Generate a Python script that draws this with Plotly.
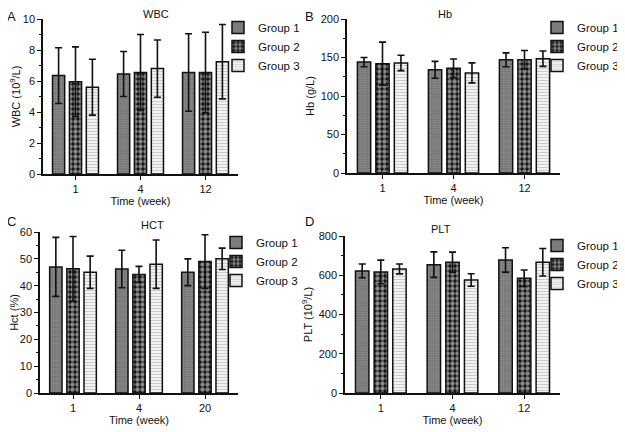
import plotly.graph_objects as go
from plotly.subplots import make_subplots

groups = ["Group 1", "Group 2", "Group 3"]

wbc_weeks = ["1", "4", "12"]
wbc_mean = [[6.35, 6.45, 6.55], [5.95, 6.55, 6.55], [5.6, 6.8, 7.25]]
wbc_err = [[1.8, 1.45, 2.5], [2.25, 2.45, 2.6], [1.8, 1.85, 2.4]]

hb_weeks = ["1", "4", "12"]
hb_mean = [[144, 134, 147], [142, 136, 147], [143, 130, 148.5]]
hb_err = [[6, 11, 9], [28, 12, 12], [10, 13, 10]]

hct_weeks = ["1", "4", "20"]
hct_mean = [[47, 46.2, 45], [46.3, 44.2, 49], [45, 48, 50]]
hct_err = [[11, 7, 5], [12, 3, 10], [6, 9, 4]]

plt_weeks = ["1", "4", "12"]
plt_mean = [[622, 654, 678], [617, 666, 585], [632, 576, 666]]
plt_err = [[35, 65, 62], [60, 52, 42], [25, 32, 70]]

patterns = [
    dict(shape=".", bgcolor="#6c6c6c", fgcolor="#b4b4b4", size=2.5, solidity=0.5),
    dict(shape=".", bgcolor="#111111", fgcolor="#ffffff", size=5, solidity=0.6),
    dict(shape="-", bgcolor="#ffffff", fgcolor="#9a9a9a", size=3, solidity=0.5),
]

panels = [
    (wbc_weeks, wbc_mean, wbc_err, "WBC (10<sup>9</sup>/L)", [0, 10], 2, "WBC", "A"),
    (hb_weeks, hb_mean, hb_err, "Hb (g/L)", [0, 200], 50, "Hb", "B"),
    (hct_weeks, hct_mean, hct_err, "Hct (%)", [0, 60], 10, "HCT", "C"),
    (plt_weeks, plt_mean, plt_err, "PLT (10<sup>9</sup>/L)", [0, 800], 200, "PLT", "D"),
]

# the page body has an 8px margin, so the figure starts at (8, 8) on the page;
# the figure is a bit wider than what is left so the right legends are not clipped
OFF = 8
W, H = 625, 432 - OFF


def px(xp):
    return (xp - OFF) / W


def py(yp):
    return 1 - (yp - OFF) / H


# plot-area boxes in page pixels (left, right, top, bottom)
boxes = [(43, 238, 19, 174), (347, 560, 19, 173), (40, 238, 232, 393), (345, 560, 236, 393)]
legend_pos = [(218, 13), (537, 13), (216, 228), (537, 231)]
letter_pos = [(5, 7), (303, 7), (5, 212), (303, 212)]
title_y = [14, 14, 225, 229]

fig = make_subplots(rows=2, cols=2)
font = dict(family="Liberation Sans, Arial", size=11, color="#111111")

annotations = []
for k, (weeks, means, errs, ytitle, yr, dt, title, letter) in enumerate(panels):
    row, col = k // 2 + 1, k % 2 + 1
    lg = "legend" if k == 0 else f"legend{k + 1}"
    for g in range(3):
        fig.add_trace(go.Bar(
            x=weeks, y=means[g], name=groups[g], legend=lg,
            marker=dict(color=patterns[g]["bgcolor"], pattern=patterns[g],
                        line=dict(color="#111111", width=1.5)),
            error_y=dict(type="data", array=errs[g], color="#111111", thickness=1.6, width=3.5),
        ), row=row, col=col)
    l, r, t, b = boxes[k]
    suffix = "" if k == 0 else str(k + 1)
    fig.layout["xaxis" + suffix].update(
        domain=[px(l), px(r)], range=[-0.5, 2.5], showline=True, linecolor="#111111",
        linewidth=1.5, ticks="outside", ticklen=4, tickwidth=1.2, tickcolor="#111111",
        title=dict(text="Time (week)", font=font, standoff=2), tickfont=font, showgrid=False)
    fig.layout["yaxis" + suffix].update(
        domain=[py(b), py(t)], range=yr, dtick=dt, showline=True, linecolor="#111111",
        linewidth=1.5, ticks="outside", ticklen=4, tickwidth=1.2, tickcolor="#111111",
        minor=dict(ticks="outside", ticklen=2, dtick=dt / 2, tickcolor="#111111"),
        title=dict(text=ytitle, font=font, standoff=4), tickfont=font, showgrid=False, zeroline=False)
    lx, ly = legend_pos[k]
    fig.layout[lg] = dict(x=px(lx), y=py(ly), xanchor="left", yanchor="top",
                          font=dict(family="Liberation Sans, Arial", size=11.5, color="#111111"),
                          bgcolor="rgba(0,0,0,0)", tracegroupgap=0, itemwidth=30)
    annotations.append(dict(text=title, x=px((l + r) / 2), y=py(title_y[k]), xref="paper", yref="paper",
                            showarrow=False, font=font, yanchor="middle"))
    annotations.append(dict(text=letter, x=px(letter_pos[k][0]), y=py(letter_pos[k][1]),
                            xref="paper", yref="paper", xanchor="left", yanchor="top",
                            showarrow=False, font=dict(family="Liberation Sans, Arial", size=13, color="#111111")))

fig.update_layout(
    width=W, height=H, margin=dict(l=0, r=0, t=0, b=0, autoexpand=False),
    barmode="group", bargap=0.22, bargroupgap=0.28,
    plot_bgcolor="white", paper_bgcolor="white",
    annotations=annotations, showlegend=True,
)

fig.write_html("out.html")
